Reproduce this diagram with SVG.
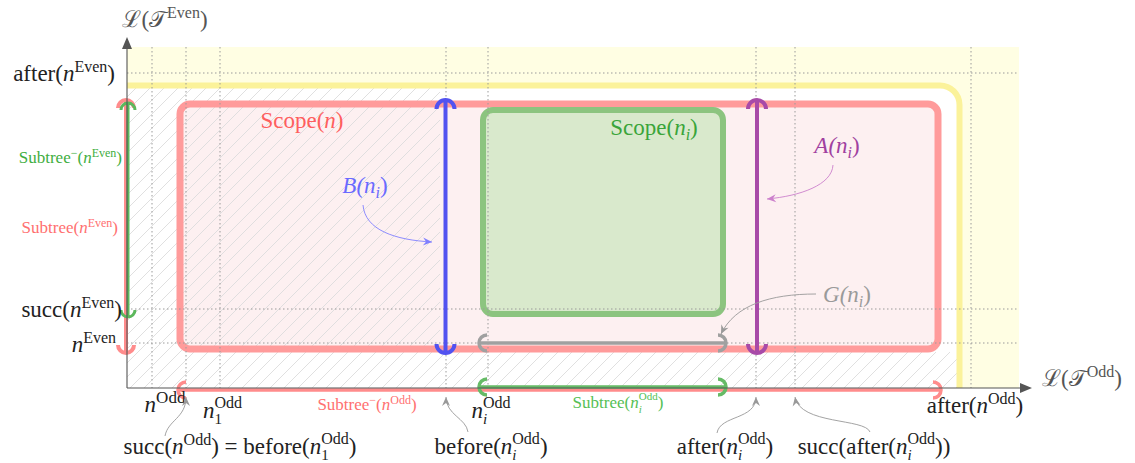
<svg xmlns="http://www.w3.org/2000/svg" width="1135" height="463" viewBox="0 0 1135 463">
<style>
.t{font-family:"Liberation Serif","DejaVu Serif",serif;font-size:23px;fill:#222}
.s{font-size:17px}
.it{font-style:italic}
.grid{stroke:#9a9a9a;stroke-width:1;stroke-dasharray:1.5 2.5;fill:none}
.bar{fill:none;stroke-linecap:butt}
.ann{fill:none;stroke-width:0.9}
</style>
<defs>
<pattern id="hatch" patternUnits="userSpaceOnUse" width="14" height="14">
<path d="M-1,1 l2,-2 M0,14 l14,-14 M13,15 l2,-2" stroke="#dcdcdc" stroke-width="0.9"/>
</pattern>
<clipPath id="hclip">
<rect x="127" y="86" width="313" height="302"/>
<rect x="127" y="352" width="832" height="36"/>
</clipPath>
<marker id="mB" viewBox="-10 -5 11 10" markerWidth="11" markerHeight="10" refX="0" refY="0" orient="auto" markerUnits="userSpaceOnUse"><path d="M0,0 L-9,-4 L-6,0 L-9,4 Z" fill="#8080ff"/></marker>
<marker id="mA" viewBox="-10 -5 11 10" markerWidth="11" markerHeight="10" refX="0" refY="0" orient="auto" markerUnits="userSpaceOnUse"><path d="M0,0 L-9,-4 L-6,0 L-9,4 Z" fill="#cc80cc"/></marker>
<marker id="mG" viewBox="-10 -5 11 10" markerWidth="11" markerHeight="10" refX="0" refY="0" orient="auto" markerUnits="userSpaceOnUse"><path d="M0,0 L-9,-4 L-6,0 L-9,4 Z" fill="#999"/></marker>
</defs>

<g id="background">
<rect x="127" y="47" width="892" height="341" fill="#fffee3"/>
<path d="M127,86 H940 A19,19 0 0 1 959,105 V388 H127 Z" fill="#fff"/>
</g>

<g id="scope-n-fill">
<rect x="180" y="104" width="758" height="245" rx="10" fill="#fdf0f1"/>
</g>
<g id="scope-ni-fill">
<rect x="483" y="110" width="240" height="204" rx="10" fill="#d9e9cc"/>
</g>

<rect x="127" y="86" width="832" height="302" fill="url(#hatch)" clip-path="url(#hclip)"/>

<g id="after-boundary">
<path d="M127,85.5 H940 A19.5,19.5 0 0 1 959.5,105 V388" fill="none" stroke="#fbf29a" stroke-width="6"/>
</g>

<g id="scope-n">
<rect x="180" y="104" width="758" height="245" rx="10" fill="none" stroke="#ff9b9b" stroke-width="7"/>
<text class="t" x="302" y="128" text-anchor="middle" font-size="24" style="fill:#ff5e5e">Scope(<tspan class="it">n</tspan>)</text>
</g>

<g id="scope-ni">
<rect x="483" y="110" width="240" height="204" rx="10" fill="none" stroke="#8cc47f" stroke-width="6"/>
<text class="t" x="654" y="135" text-anchor="middle" font-size="24" style="fill:#3aa53a">Scope(<tspan class="it">n</tspan><tspan class="it" font-size="16" dy="5">i</tspan><tspan dy="-5">)</tspan></text>
</g>

<g id="grid">
<path class="grid" d="M152,47V388 M186,47V388 M220,47V388 M446,47V388 M488,47V388 M756,47V388 M795,47V388 M971,47V388 M127,73H1019 M127,309H1019 M127,343H1019"/>
</g>

<g id="B-ni">
<path class="bar" d="M445.5,100V353 M436.5,109 A9,9 0 0 1 454.5,109 M436.5,344 A9,9 0 0 0 454.5,344" stroke="#5252f0" stroke-width="4"/>
<text class="t it" x="365" y="193" text-anchor="middle" style="fill:#6a6aff">B(n<tspan font-size="16" dy="5">i</tspan><tspan dy="-5" style="font-style:normal">)</tspan></text>
</g>

<g id="A-ni">
<path class="bar" d="M757,100V353 M748,109 A9,9 0 0 1 766,109 M748,344 A9,9 0 0 0 766,344" stroke="#a84aa8" stroke-width="4"/>
<text class="t it" x="837" y="153" text-anchor="middle" style="fill:#a040a0">A(n<tspan font-size="16" dy="5">i</tspan><tspan dy="-5" style="font-style:normal">)</tspan></text>
</g>

<g id="G-ni">
<path class="bar" d="M478,343H727 M487,335 A8,8 0 0 0 487,351 M718,335 A8,8 0 0 1 718,351" stroke="#a0a0a0" stroke-width="3.5"/>
<text class="t it" x="847" y="302" text-anchor="middle" style="fill:#9a9a9a">G(n<tspan font-size="16" dy="5">i</tspan><tspan dy="-5" style="font-style:normal">)</tspan></text>
</g>

<g id="subtree-nEven">
<path class="bar" d="M126,100V353 M118,108 A8,8 0 0 1 134,108 M118,345 A8,8 0 0 0 134,345" stroke="#ff8c8c" stroke-width="4"/>
<text class="t s" x="118" y="233" text-anchor="end" style="fill:#ff7070">Subtree(<tspan class="it">n</tspan><tspan font-size="12" dy="-6">Even</tspan><tspan dy="6">)</tspan></text>
</g>
<g id="subtree-minus-nEven">
<path class="bar" d="M128,103V317 M121,110 A7,7 0 0 1 135,110 M121,310 A7,7 0 0 0 135,310" stroke="#5cb85c" stroke-width="3"/>
<text class="t s" x="122" y="163" text-anchor="end" style="fill:#3fae3f">Subtree<tspan font-size="12" dy="-6">−</tspan><tspan dy="6">(</tspan><tspan class="it">n</tspan><tspan font-size="12" dy="-6">Even</tspan><tspan dy="6">)</tspan></text>
</g>

<g id="subtree-minus-nOdd">
<path class="bar" d="M178,390H941 M186,382 A8,8 0 0 0 186,398 M933,382 A8,8 0 0 1 933,398" stroke="#ff8c8c" stroke-width="3.5"/>
<text class="t s" x="367" y="410" text-anchor="middle" style="fill:#ff7070">Subtree<tspan font-size="12" dy="-6">−</tspan><tspan dy="6">(</tspan><tspan class="it">n</tspan><tspan font-size="12" dy="-6">Odd</tspan><tspan dy="6">)</tspan></text>
</g>
<g id="subtree-niOdd">
<path class="bar" d="M479,387H726 M487,379 A8,8 0 0 0 487,395 M718,379 A8,8 0 0 1 718,395" stroke="#66bb66" stroke-width="3.5"/>
<text class="t s" x="618" y="408" text-anchor="middle" style="fill:#55c055">Subtree(<tspan class="it">n</tspan><tspan class="it" font-size="11" dy="5">i</tspan><tspan font-size="11" dx="-3" dy="-13">Odd</tspan><tspan dy="8">)</tspan></text>
</g>

<g id="axes">
<path d="M127,388V47 M127,388H1021" stroke="#555" stroke-width="1.1" fill="none"/>
<path d="M127,37 L122,49 L132,49 Z M1032,388 L1020,383 L1020,393 Z" fill="#555"/>
<text class="t" x="165" y="27" text-anchor="middle" style="fill:#555">ℒ(𝒯<tspan font-size="16" dy="-9">Even</tspan><tspan dy="9">)</tspan></text>
<text class="t" x="1082" y="386" text-anchor="middle" style="fill:#555">ℒ(𝒯<tspan font-size="16" dy="-9">Odd</tspan><tspan dy="9">)</tspan></text>
</g>

<g id="left-labels">
<text class="t" x="115" y="81" text-anchor="end">after(<tspan class="it">n</tspan><tspan font-size="16" dy="-9">Even</tspan><tspan dy="9">)</tspan></text>
<text class="t" x="122" y="317" text-anchor="end">succ(<tspan class="it">n</tspan><tspan font-size="16" dy="-9">Even</tspan><tspan dy="9">)</tspan></text>
<text class="t" x="116" y="352" text-anchor="end"><tspan class="it">n</tspan><tspan font-size="16" dy="-9">Even</tspan></text>
</g>

<g id="bottom-labels">
<text class="t" x="165" y="412" text-anchor="middle"><tspan class="it">n</tspan><tspan font-size="17" dy="-9">Odd</tspan></text>
<text class="t" x="203" y="418"><tspan class="it">n</tspan><tspan font-size="15" dy="6">1</tspan><tspan font-size="16" dx="-7.5" dy="-16">Odd</tspan></text>
<text class="t" x="491" y="418" text-anchor="middle"><tspan class="it">n</tspan><tspan class="it" font-size="15" dy="6">i</tspan><tspan font-size="16" dx="-4.2" dy="-16">Odd</tspan></text>
<text class="t" x="975" y="413" text-anchor="middle">after(<tspan class="it">n</tspan><tspan font-size="16" dy="-9">Odd</tspan><tspan dy="9">)</tspan></text>
<text class="t" x="240" y="454" text-anchor="middle">succ(<tspan class="it">n</tspan><tspan font-size="16" dy="-9">Odd</tspan><tspan dy="9">) = before(</tspan><tspan class="it">n</tspan><tspan font-size="15" dy="6">1</tspan><tspan font-size="16" dx="-7.5" dy="-16">Odd</tspan><tspan dy="10">)</tspan></text>
<text class="t" x="491" y="454" text-anchor="middle">before(<tspan class="it">n</tspan><tspan class="it" font-size="15" dy="6">i</tspan><tspan font-size="16" dx="-4.2" dy="-16">Odd</tspan><tspan dy="10">)</tspan></text>
<text class="t" x="725" y="454" text-anchor="middle">after(<tspan class="it">n</tspan><tspan class="it" font-size="15" dy="6">i</tspan><tspan font-size="16" dx="-4.2" dy="-16">Odd</tspan><tspan dy="10">)</tspan></text>
<text class="t" x="874" y="454" text-anchor="middle">succ(after(<tspan class="it">n</tspan><tspan class="it" font-size="15" dy="6">i</tspan><tspan font-size="16" dx="-4.2" dy="-16">Odd</tspan><tspan dy="10">))</tspan></text>
</g>

<g id="connectors">
<path class="ann" d="M363,205 C365,230 395,240 432,242" stroke="#8080ff" marker-end="url(#mB)"/>
<path class="ann" d="M833,165 C832,185 800,196 767,199" stroke="#cc80cc" marker-end="url(#mA)"/>
<path class="ann" d="M816,294 C770,294 735,305 721,334" stroke="#999" marker-end="url(#mG)"/>
<path class="ann" d="M165,436 C168,420 186,418 186,397" stroke="#999" marker-end="url(#mG)"/>
<path class="ann" d="M468,432 C466,418 446,415 446,397" stroke="#999" marker-end="url(#mG)"/>
<path class="ann" d="M717,433 C720,415 756,420 756,397" stroke="#999" marker-end="url(#mG)"/>
<path class="ann" d="M870,432 C865,418 800,425 795,397" stroke="#999" marker-end="url(#mG)"/>
</g>
</svg>
